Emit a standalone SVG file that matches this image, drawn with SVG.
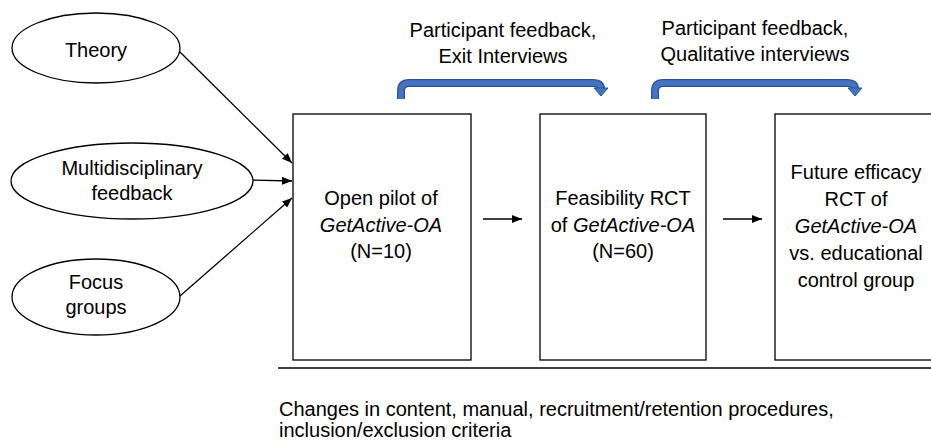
<svg xmlns="http://www.w3.org/2000/svg" width="931" height="447" viewBox="0 0 931 447">
<style>
text{font-family:"Liberation Sans",Arial,sans-serif;font-size:20px;fill:#000}
.c{text-anchor:middle}
.i{font-style:italic}
.n{fill:#fff;stroke:#000;stroke-width:1.3}
.ln{stroke:#000;stroke-width:1.3;fill:none}
.bl{fill:none;stroke:#2F528F;stroke-width:8}
.bi{fill:none;stroke:#4472C4;stroke-width:5.5}
</style>
<defs>
<marker id="ah" viewBox="0 0 10 10" refX="10" refY="5" markerWidth="10" markerHeight="8" markerUnits="userSpaceOnUse" orient="auto" preserveAspectRatio="none"><path d="M0,0L10,5L0,10z" fill="#000"/></marker>
</defs>
<rect width="931" height="447" fill="#fff"/>
<g id="theory"><ellipse class="n" cx="96" cy="48" rx="84" ry="35"/><text class="c" x="96" y="57">Theory</text></g>
<g id="multi"><ellipse class="n" cx="132" cy="181" rx="121" ry="38"/><text class="c" x="132" y="175">Multidisciplinary</text><text class="c" x="132" y="200">feedback</text></g>
<g id="focus"><ellipse class="n" cx="96" cy="297" rx="84" ry="38"/><text class="c" x="96" y="289">Focus</text><text class="c" x="96" y="314">groups</text></g>
<g id="pilot"><rect class="n" x="293" y="114" width="178" height="246"/><text class="c" x="381" y="205">Open pilot of</text><text class="c i" x="381" y="232">GetActive-OA</text><text class="c" x="381" y="258">(N=10)</text></g>
<g id="feas"><rect class="n" x="540" y="114" width="166" height="246"/><text class="c" x="623" y="205">Feasibility RCT</text><text class="c" x="623" y="232">of <tspan class="i">GetActive-OA</tspan></text><text class="c" x="623" y="258">(N=60)</text></g>
<g id="future"><rect class="n" x="775" y="114" width="180" height="246"/><text class="c" x="856" y="179">Future efficacy</text><text class="c" x="856" y="206">RCT of</text><text class="c i" x="856" y="233">GetActive-OA</text><text class="c" x="856" y="260">vs. educational</text><text class="c" x="856" y="287">control group</text></g>
<g id="label1"><text class="c" x="503" y="37">Participant feedback,</text><text class="c" x="503" y="63">Exit Interviews</text></g>
<g id="label2"><text class="c" x="755" y="35">Participant feedback,</text><text class="c" x="755" y="61">Qualitative interviews</text></g>
<g id="connectors">
<line class="ln" x1="180" y1="52" x2="292" y2="163" marker-end="url(#ah)"/>
<line class="ln" x1="253" y1="180" x2="292" y2="181" marker-end="url(#ah)"/>
<line class="ln" x1="180" y1="296" x2="292" y2="198" marker-end="url(#ah)"/>
<line class="ln" x1="483" y1="219" x2="522" y2="219" marker-end="url(#ah)"/>
<line class="ln" x1="723" y1="219" x2="762" y2="219" marker-end="url(#ah)"/>
<path class="bl" d="M401,99V91Q401,83 409,83H593Q601,83 601,89"/>
<path class="bi" d="M401,99V91Q401,83 409,83H593Q601,83 601,89"/>
<path d="M594,88L608,88L601,96z" fill="#4472C4" stroke="#2F528F" stroke-width="1"/>
<path class="bl" d="M655,99V91Q655,83 663,83H847Q855,83 855,89"/>
<path class="bi" d="M655,99V91Q655,83 663,83H847Q855,83 855,89"/>
<path d="M848,88L862,88L855,96z" fill="#4472C4" stroke="#2F528F" stroke-width="1"/>
<line class="ln" x1="278" y1="368" x2="931" y2="368"/>
</g>
<g id="note"><text x="279" y="416">Changes in content, manual, recruitment/retention procedures,</text><text x="279" y="437">inclusion/exclusion criteria</text></g>
</svg>
